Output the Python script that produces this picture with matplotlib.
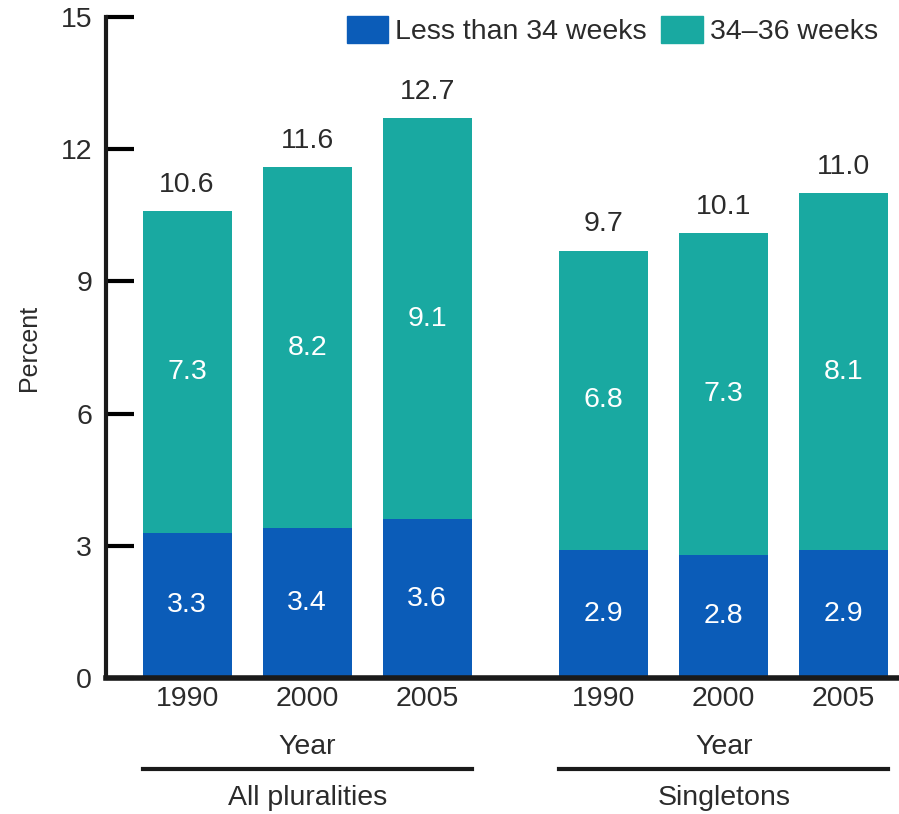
import matplotlib
matplotlib.use("Agg")
import matplotlib.pyplot as plt
from matplotlib.patches import Patch
from matplotlib.lines import Line2D

plt.rcParams['font.family'] = ['Liberation Sans', 'DejaVu Sans']

years = ["1990", "2000", "2005", "1990", "2000", "2005"]
groups = ["All pluralities", "Singletons"]
less34 = [3.3, 3.4, 3.6, 2.9, 2.8, 2.9]
w34_36 = [7.3, 8.2, 9.1, 6.8, 7.3, 8.1]
totals = [10.6, 11.6, 12.7, 9.7, 10.1, 11.0]

positions = [0, 1, 2, 3.47, 4.47, 5.47]
blue = "#0b5cb8"
teal = "#19a9a1"
txt = "#2b2b2b"
fs = 20.5

fig = plt.figure(figsize=(8.99, 8.14), dpi=100)
ax = fig.add_axes([0.118, 0.167, 0.882, 0.812])

width = 0.74
ax.bar(positions, less34, width, color=blue, label="Less than 34 weeks", zorder=2)
ax.bar(positions, w34_36, width, bottom=less34, color=teal, label="34–36 weeks", zorder=2)

for x, a, b, t in zip(positions, less34, w34_36, totals):
    ax.text(x, a / 2, f"{a:.1f}", ha="center", va="center", color="white", fontsize=fs)
    ax.text(x, a + b / 2, f"{b:.1f}", ha="center", va="center", color="white", fontsize=fs)
    ax.text(x, t + 0.3, f"{t:.1f}", ha="center", va="bottom", color=txt, fontsize=fs)

ax.set_xlim(-0.675, 5.93)
ax.set_ylim(0, 15)
ax.set_yticks([0, 3, 6, 9, 12, 15])
ax.tick_params(axis="y", direction="in", length=20, width=3, labelsize=fs, labelcolor=txt, pad=10)
ax.set_xticks(positions)
ax.set_xticklabels(years)
ax.tick_params(axis="x", length=0, labelsize=fs, labelcolor=txt, pad=6)
ax.set_ylabel("Percent", fontsize=18, color=txt, labelpad=14)

for s in ["top", "right"]:
    ax.spines[s].set_visible(False)
ax.spines["left"].set_linewidth(3)
ax.spines["bottom"].set_linewidth(4)
ax.spines["left"].set_color("#1a1a1a")
ax.spines["bottom"].set_color("#1a1a1a")

# group annotations
trans = ax.get_xaxis_transform()
for g, (i0, i1) in zip(groups, [(0, 2), (3, 5)]):
    c = (positions[i0] + positions[i1]) / 2
    ax.text(c, -0.105, "Year", transform=trans, ha="center", va="center", fontsize=fs, color=txt)
    ax.add_line(Line2D([positions[i0] - 0.37, positions[i1] + 0.37], [-0.137, -0.137],
                       transform=trans, color="#1a1a1a", lw=3, clip_on=False))
    ax.text(c, -0.182, g, transform=trans, ha="center", va="center", fontsize=fs, color=txt)

handles = [Patch(color=blue, label="Less than 34 weeks"), Patch(color=teal, label="34–36 weeks")]
fig.legend(handles=handles, loc="upper right", bbox_to_anchor=(1.005, 1.012), ncol=2, frameon=False,
           fontsize=fs, handlelength=1.45, handleheight=1.1, handletextpad=0.25, columnspacing=0.5,
           labelcolor=txt)

fig.savefig("out.png", dpi=100)
